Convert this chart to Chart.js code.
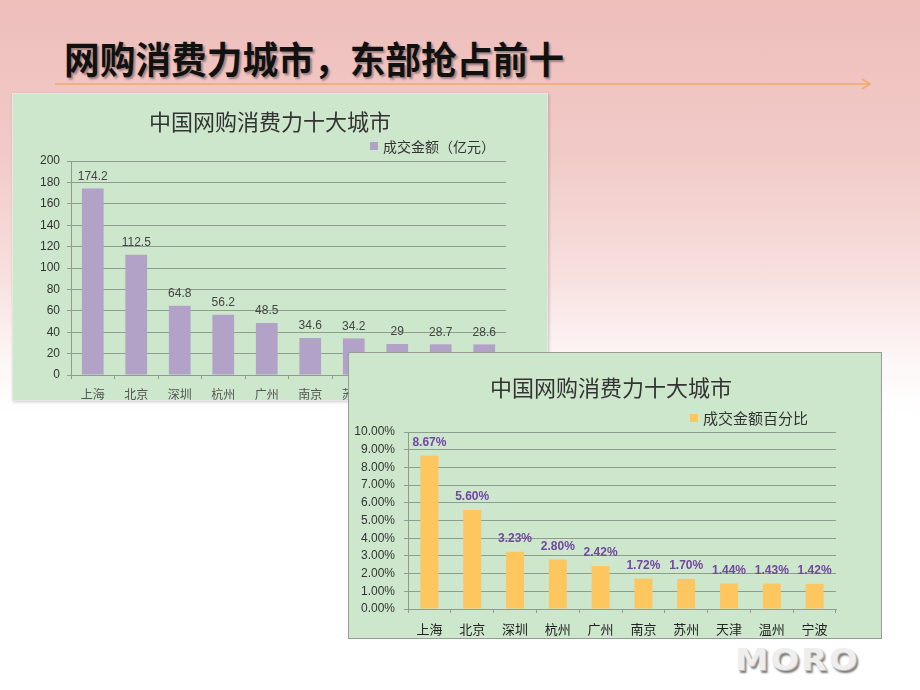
<!DOCTYPE html>
<html>
<head>
<meta charset="utf-8">
<script src="https://cdn.jsdelivr.net/npm/chart.js@4.4.0/dist/chart.umd.min.js"></script>
<style>
body { margin:0; width:920px; height:690px; overflow:hidden; font-family:"Noto Sans CJK SC", sans-serif; }
#slide { position:relative; width:920px; height:690px;
  background:linear-gradient(to bottom, #eebebb 0%, #f1cac7 22%, #f7e0de 40%, #fdf6f6 52%, #ffffff 60%); }
#headline { position:absolute; left:64px; top:37px; font-size:37px; font-weight:700; color:#111; line-height:42px;
  text-shadow:2px 2px 2px rgba(0,0,0,0.35); white-space:nowrap; transform:scaleX(0.965); transform-origin:left top; }
#rule { position:absolute; left:0; top:0; }
.box { position:absolute; background:#cde7cd; overflow:hidden; }
#box1 { left:12px; top:93px; width:534px; height:306px; border:1px solid #e6e6e6; box-shadow:1px 1px 3px rgba(0,0,0,0.2); }
#box2 { left:348px; top:352px; width:532px; height:285px; border:1px solid #9a9a9a; }
.ctitle { position:absolute; left:0; right:0; text-align:center; font-size:22px; color:#333; font-weight:400; white-space:nowrap; }
.legend { position:absolute; white-space:nowrap; color:#333; }
.legend i { display:inline-block; width:8px; height:8px; margin-right:5px; vertical-align:middle; position:relative; top:-2px; }
#logo { position:absolute; left:735px; top:641px; font-family:"DejaVu Sans", sans-serif; font-weight:700; font-size:31px;
  letter-spacing:2px; color:#eeeeee; text-shadow:1px 1px 0 #bbb, 2px 3px 2px #777; transform:scaleX(1.08); transform-origin:left top; }
</style>
</head>
<body>
<div id="slide">
  <div id="headline">网购消费力城市，东部抢占前十</div>
  <svg id="rule" width="920" height="100">
    <line x1="55" y1="84" x2="870" y2="84" stroke="#f2a968" stroke-width="1.5"/>
    <polyline points="862,79 870,84 862,89" fill="none" stroke="#f2a968" stroke-width="1.5"/>
  </svg>

  <div class="box" id="box1">
    <div class="ctitle" style="top:10px;left:-20px;">中国网购消费力十大城市</div>
    <div class="legend" style="left:357px;top:42px;font-size:14px;"><i style="background:#b3a2c7"></i>成交金额（亿元）</div>
    <canvas id="c1" width="534" height="330"></canvas>
  </div>

  <div class="box" id="box2">
    <div class="ctitle" style="top:17px;left:-8px;">中国网购消费力十大城市</div>
    <div class="legend" style="left:341px;top:54px;font-size:15px;"><i style="background:#fec65e"></i>成交金额百分比</div>
    <canvas id="c2" width="532" height="285"></canvas>
  </div>

  <div id="logo">MORO</div>
</div>

<script>
// --- DATA ---
const cities = ['上海', '北京', '深圳', '杭州', '广州', '南京', '苏州', '天津', '温州', '宁波'];
const amounts = [174.2, 112.5, 64.8, 56.2, 48.5, 34.6, 34.2, 29, 28.7, 28.6];   // 亿元
const shares = [8.67, 5.60, 3.23, 2.80, 2.42, 1.72, 1.70, 1.44, 1.43, 1.42];      // %
const amountAxis = { min: 0, max: 200, step: 20 };
const shareAxis = { min: 0, max: 10, step: 1 };

const gridColor = '#8f9c8f';

// value labels above each bar
function barLabels(font, color, fmt, offset) {
    return {
        id: 'barLabels',
        afterDatasetsDraw(chart) {
            const ctx = chart.ctx;
            const meta = chart.getDatasetMeta(0);
            const vals = chart.data.datasets[0].data;
            ctx.save();
            ctx.font = font;
            ctx.fillStyle = color;
            ctx.textAlign = 'center';
            ctx.textBaseline = 'middle';
            meta.data.forEach((bar, i) => ctx.fillText(fmt(vals[i]), bar.x, bar.y - offset));
            ctx.restore();
        }
    };
}

function baseOptions(pad, yWidth, xHeight, yAxis, yFmt, yPad, xColor, xSize) {
    return {
        responsive: false,
        animation: false,
        layout: { padding: pad },
        plugins: { legend: { display: false }, title: { display: false }, tooltip: { enabled: false } },
        scales: {
            x: {
                offset: true,
                grid: { display: true, drawOnChartArea: false, offset: true, tickLength: 4, color: gridColor },
                border: { color: gridColor },
                ticks: { color: xColor, padding: 8, font: { size: xSize, family: 'Noto Sans CJK SC' }, maxRotation: 0 },
                afterFit: s => { s.height = xHeight; }
            },
            y: {
                min: yAxis.min, max: yAxis.max,
                grid: { color: gridColor, tickLength: 4 },
                border: { color: gridColor },
                ticks: { stepSize: yAxis.step, color: '#333', padding: yPad, font: { size: 12, family: 'Liberation Sans' }, callback: yFmt },
                afterFit: s => { s.width = yWidth; }
            }
        }
    };
}

// --- CHART 1: amounts ---
new Chart(document.getElementById('c1'), {
    type: 'bar',
    data: {
        labels: cities,
        datasets: [{ label: '成交金额（亿元）', data: amounts, backgroundColor: '#b3a2c7',
            barPercentage: 0.5, categoryPercentage: 1 }]
    },
    options: baseOptions({ top: 67, left: 0, right: 41, bottom: 19 }, 58, 30, amountAxis, v => v, 7, '#555', 12),
    plugins: [barLabels('12px "Liberation Sans"', '#444', v => String(v), 12)]
});

// --- CHART 2: shares ---
new Chart(document.getElementById('c2'), {
    type: 'bar',
    data: {
        labels: cities,
        datasets: [{ label: '成交金额百分比', data: shares, backgroundColor: '#fec65e',
            barPercentage: 0.42, categoryPercentage: 1 }]
    },
    options: baseOptions({ top: 79, left: 0, right: 45, bottom: 0 }, 59, 29, shareAxis, v => v.toFixed(2) + '%', 9, '#222', 13),
    plugins: [barLabels('bold 12px "Liberation Sans"', '#7346a0', v => v.toFixed(2) + '%', 13)]
});
</script>
</body>
</html>
